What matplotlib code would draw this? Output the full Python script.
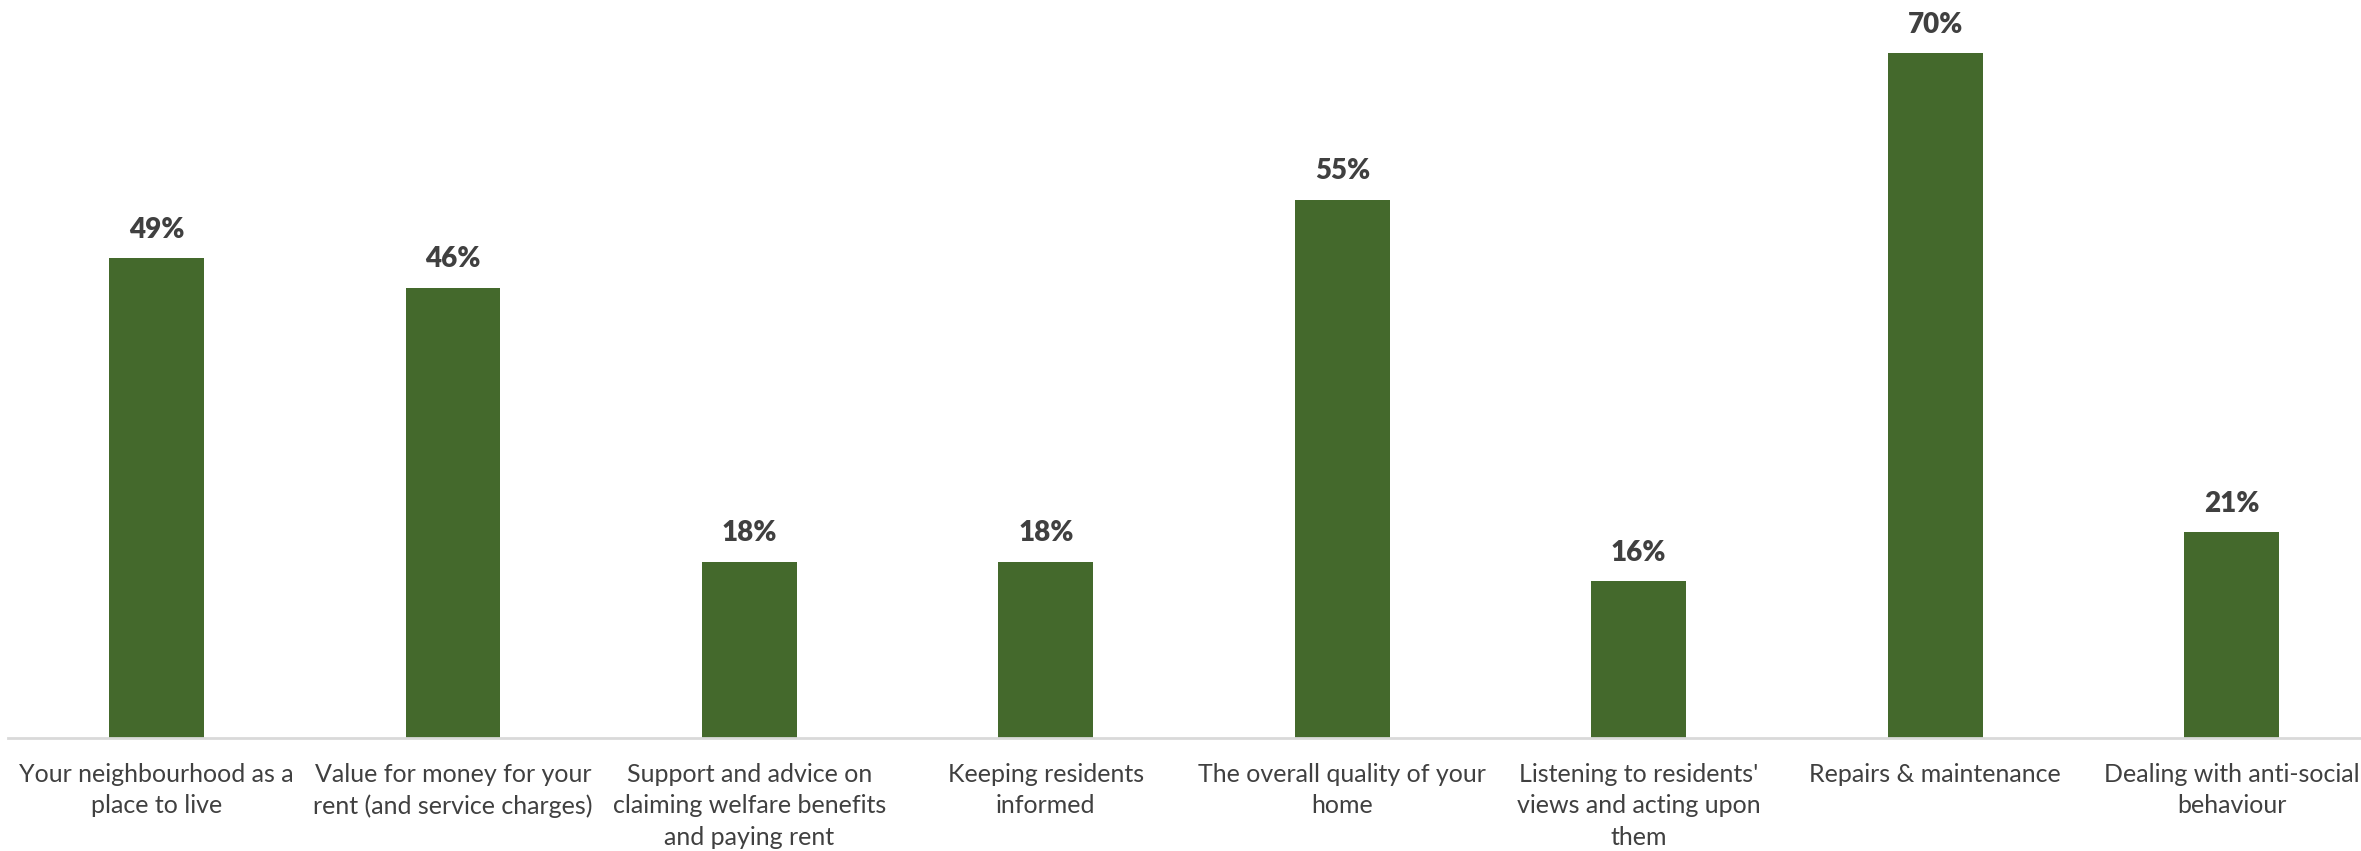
import numpy as np
import matplotlib
matplotlib.use('Agg')
from matplotlib import pyplot as plt

# survey results: share of residents rating each service as a priority
categories = ['Your neighbourhood as a\nplace to live',
              'Value for money for your\nrent (and service charges)',
              'Support and advice on\nclaiming welfare benefits\nand paying rent',
              'Keeping residents\ninformed',
              'The overall quality of your\nhome',
              "Listening to residents'\nviews and acting upon\nthem",
              'Repairs & maintenance',
              'Dealing with anti-social\nbehaviour']
values = [49, 46, 18, 18, 55, 16, 70, 21]

# plot
fontsize  = 18
barcolor  = '#44692C'
textcolor = '#404040'
plt.rcParams['font.family'] = ['Lato', 'DejaVu Sans']

fig = plt.figure(figsize=(23.61, 8.51), dpi=100)
ax  = fig.add_axes([0.0035, 0.133, 1.0045, 0.867])

x = np.arange(len(values))
bars = ax.bar(x, values, width=0.32, color=barcolor, zorder=2)

for b, v in zip(bars, values):
    ax.annotate(f'{v}%', (b.get_x() + b.get_width()/2, v), xytext=(0, 11),
                textcoords='offset points', ha='center', va='bottom',
                fontsize=20, fontweight='heavy', color=textcolor)

ax.set_xlim([-0.5, len(values) - 0.5])
ax.set_ylim([0, 75.4])
ax.set_xticks(x)
ax.set_xticklabels(categories, fontsize=fontsize, color=textcolor, linespacing=1.45)
ax.tick_params(axis='x', length=0, pad=18)
ax.set_yticks([])

for s in ['top', 'right', 'left']:
    ax.spines[s].set_visible(False)
ax.spines['bottom'].set_color('#d9d9d9')
ax.spines['bottom'].set_linewidth(2)

plt.savefig('out.png', dpi=100)
